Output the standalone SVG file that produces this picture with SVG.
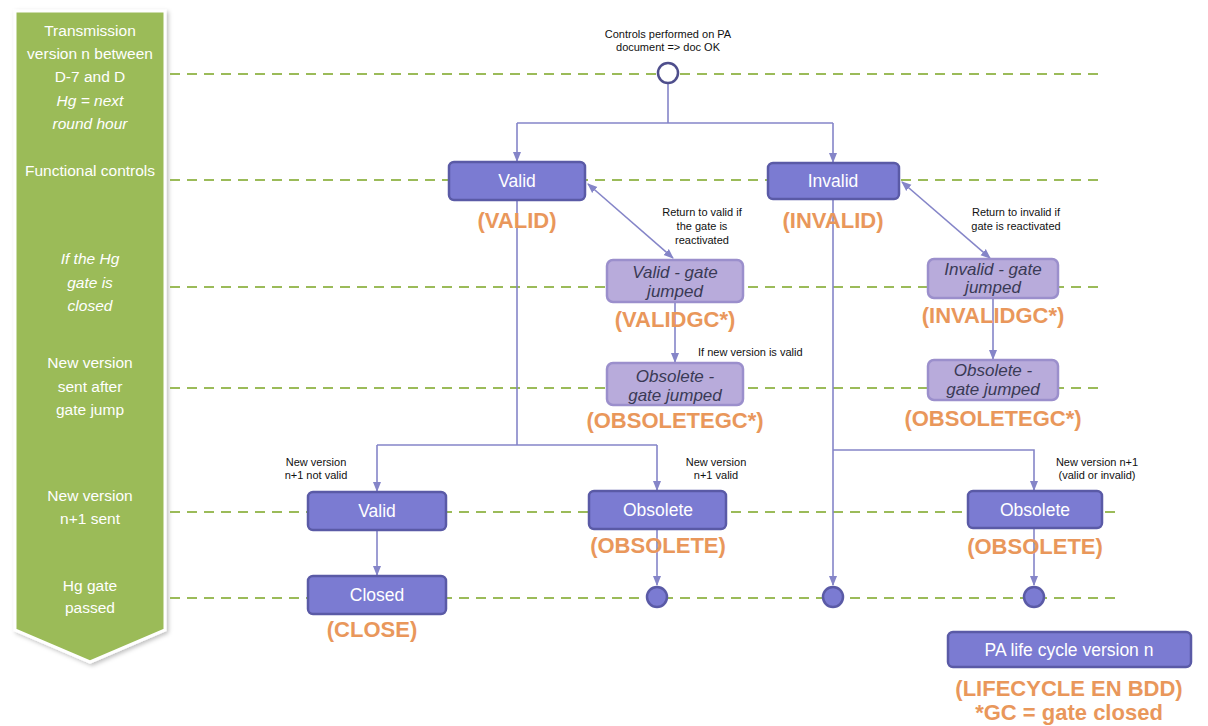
<svg xmlns="http://www.w3.org/2000/svg" width="1208" height="726" viewBox="0 0 1208 726">
<defs>
<marker id="ah" markerWidth="10" markerHeight="10" refX="9" refY="5" orient="auto-start-reverse" markerUnits="userSpaceOnUse">
<path d="M0,1 L10,5 L0,9 Z" fill="#8585C8"/>
</marker>
<filter id="sh" x="-10%" y="-5%" width="130%" height="115%">
<feDropShadow dx="2" dy="2" stdDeviation="2" flood-color="#000" flood-opacity="0.25"/>
</filter>
</defs>
<style>
text{font-family:"Liberation Sans",Arial,sans-serif}
.band{fill:#ffffff;font-size:15.5px;text-anchor:middle}
.it{font-style:italic}
.dash{stroke:#9BBB59;stroke-width:2;stroke-dasharray:10,7;fill:none}
.dk rect{fill:#7B7BD2;stroke:#5A5AA6;stroke-width:2.5}
.dk text{fill:#ffffff;font-size:17.5px;text-anchor:middle}
.lt rect{fill:#B8ABDB;stroke:#9B8FCC;stroke-width:2.5}
.lt text{fill:#3A3A55;font-size:17px;font-style:italic;text-anchor:middle}
.dk text.or,.lt text.or,text.or{fill:#E9975B;font-size:22px;font-weight:bold;font-style:normal;text-anchor:middle}
.lbl{fill:#111;font-size:11px;text-anchor:middle}
text.lbl.st{text-anchor:start}
.con{stroke:#8585C8;stroke-width:1.6;fill:none}
.fin{fill:#7B7BD2;stroke:#5A5AA6;stroke-width:2.5}
</style>
<rect width="1208" height="726" fill="#ffffff"/>

<g id="banner">
<polygon points="15,11 165,11 165,630 90,662 15,630" fill="#9BBB59" stroke="#ffffff" stroke-width="3" filter="url(#sh)"/>
<text class="band" x="90" y="36">Transmission</text>
<text class="band" x="90" y="59">version n between</text>
<text class="band" x="90" y="82">D-7 and D</text>
<text class="band it" x="90" y="106">Hg = next</text>
<text class="band it" x="90" y="129">round hour</text>
<text class="band" x="90" y="176">Functional controls</text>
<text class="band it" x="90" y="264">If the Hg</text>
<text class="band it" x="90" y="288">gate is</text>
<text class="band it" x="90" y="311">closed</text>
<text class="band" x="90" y="368">New version</text>
<text class="band" x="90" y="392">sent after</text>
<text class="band" x="90" y="415">gate jump</text>
<text class="band" x="90" y="501">New version</text>
<text class="band" x="90" y="524">n+1 sent</text>
<text class="band" x="90" y="591">Hg gate</text>
<text class="band" x="90" y="613">passed</text>
</g>

<g id="swimlines">
<line class="dash" x1="170" y1="74" x2="1100" y2="74"/>
<line class="dash" x1="170" y1="180" x2="1100" y2="180"/>
<line class="dash" x1="170" y1="287" x2="1100" y2="287"/>
<line class="dash" x1="170" y1="388" x2="1100" y2="388"/>
<line class="dash" x1="170" y1="512" x2="1115" y2="512"/>
<line class="dash" x1="170" y1="598" x2="1115" y2="598"/>
</g>

<g id="connectors">
<polyline class="con" points="668,83 668,123"/>
<polyline class="con" points="517,123 833,123"/>
<polyline class="con" points="517,123 517,161" marker-end="url(#ah)"/>
<polyline class="con" points="833,123 833,162" marker-end="url(#ah)"/>
<line class="con" x1="588" y1="184" x2="673" y2="258" marker-start="url(#ah)" marker-end="url(#ah)"/>
<line class="con" x1="675" y1="302" x2="675" y2="362" marker-end="url(#ah)"/>
<line class="con" x1="902" y1="182" x2="990" y2="258" marker-start="url(#ah)" marker-end="url(#ah)"/>
<line class="con" x1="993" y1="298" x2="993" y2="359" marker-end="url(#ah)"/>
<polyline class="con" points="517,200 517,445"/>
<polyline class="con" points="377,445 657,445"/>
<polyline class="con" points="377,445 377,491" marker-end="url(#ah)"/>
<polyline class="con" points="657,445 657,490" marker-end="url(#ah)"/>
<line class="con" x1="377" y1="530" x2="377" y2="575" marker-end="url(#ah)"/>
<line class="con" x1="657" y1="529" x2="657" y2="585" marker-end="url(#ah)"/>
<polyline class="con" points="833,199 833,585" marker-end="url(#ah)"/>
<polyline class="con" points="833,450 1034,450 1034,490" marker-end="url(#ah)"/>
<line class="con" x1="1034" y1="528" x2="1034" y2="585" marker-end="url(#ah)"/>
<text class="lbl" x="702" y="216">Return to valid if</text>
<text class="lbl" x="702" y="230">the gate is</text>
<text class="lbl" x="702" y="244">reactivated</text>
<text class="lbl" x="1016" y="216">Return to invalid if</text>
<text class="lbl" x="1016" y="230">gate is reactivated</text>
<text class="lbl st" x="698" y="356">If new version is valid</text>
<text class="lbl" x="316" y="466">New version</text>
<text class="lbl" x="316" y="479">n+1 not valid</text>
<text class="lbl" x="716" y="466">New version</text>
<text class="lbl" x="716" y="479">n+1 valid</text>
<text class="lbl" x="1097" y="466">New version n+1</text>
<text class="lbl" x="1097" y="479">(valid or invalid)</text>
</g>

<g id="start">
<text class="lbl" x="668" y="38">Controls performed on PA</text>
<text class="lbl" x="668" y="51">document =&gt; doc OK</text>
<circle cx="668" cy="73" r="10" fill="#ffffff" stroke="#4E4E8C" stroke-width="2.5"/>
</g>

<g id="valid" class="dk">
<rect x="449" y="162" width="136" height="38" rx="5"/>
<text x="517" y="187">Valid</text>
<text class="or" x="517" y="228">(VALID)</text>
</g>

<g id="invalid" class="dk">
<rect x="768" y="163" width="131" height="36" rx="5"/>
<text x="833" y="187">Invalid</text>
<text class="or" x="833" y="228">(INVALID)</text>
</g>

<g id="validgc" class="lt">
<rect x="607" y="260" width="136" height="42" rx="6"/>
<text x="675" y="278">Valid - gate</text>
<text x="675" y="297">jumped</text>
<text class="or" x="675" y="327">(VALIDGC*)</text>
</g>

<g id="obsoletegc1" class="lt">
<rect x="607" y="363" width="136" height="42" rx="6"/>
<text x="675" y="382">Obsolete -</text>
<text x="675" y="401">gate jumped</text>
<text class="or" x="675" y="428">(OBSOLETEGC*)</text>
</g>

<g id="invalidgc" class="lt">
<rect x="928" y="259" width="130" height="39" rx="6"/>
<text x="993" y="275">Invalid - gate</text>
<text x="993" y="293">jumped</text>
<text class="or" x="993" y="323">(INVALIDGC*)</text>
</g>

<g id="obsoletegc2" class="lt">
<rect x="928" y="360" width="130" height="40" rx="6"/>
<text x="993" y="376">Obsolete -</text>
<text x="993" y="395">gate jumped</text>
<text class="or" x="993" y="426">(OBSOLETEGC*)</text>
</g>

<g id="valid2" class="dk">
<rect x="308" y="492" width="138" height="38" rx="5"/>
<text x="377" y="517">Valid</text>
</g>

<g id="closed" class="dk">
<rect x="308" y="576" width="138" height="38" rx="5"/>
<text x="377" y="601">Closed</text>
<text class="or" x="372" y="637">(CLOSE)</text>
</g>

<g id="obsolete1" class="dk">
<rect x="589" y="491" width="137" height="38" rx="5"/>
<text x="658" y="516">Obsolete</text>
<text class="or" x="658" y="553">(OBSOLETE)</text>
</g>

<g id="obsolete2" class="dk">
<rect x="968" y="491" width="134" height="37" rx="5"/>
<text x="1035" y="516">Obsolete</text>
<text class="or" x="1035" y="554">(OBSOLETE)</text>
</g>

<g id="end1"><circle class="fin" cx="657" cy="597" r="10"/></g>
<g id="end2"><circle class="fin" cx="833" cy="597" r="10"/></g>
<g id="end3"><circle class="fin" cx="1034" cy="597" r="10"/></g>

<g id="legend" class="dk">
<rect x="948" y="632" width="243" height="35" rx="5"/>
<text x="1069" y="656">PA life cycle version n</text>
<text class="or" x="1069" y="696">(LIFECYCLE EN BDD)</text>
<text class="or" x="1069" y="720">*GC = gate closed</text>
</g>
</svg>
